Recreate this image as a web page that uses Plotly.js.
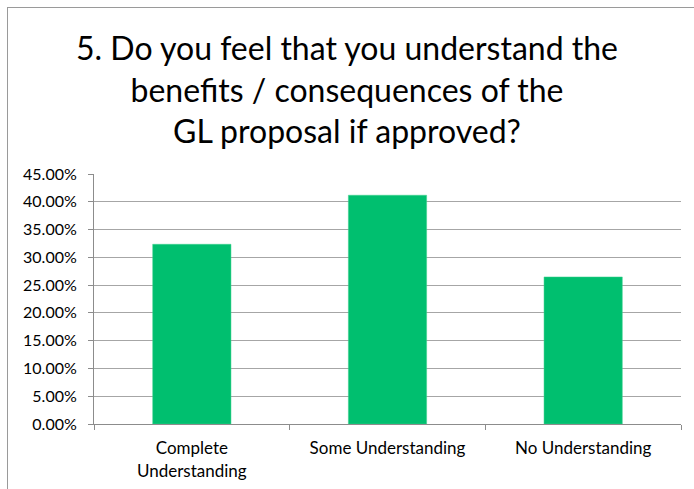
<!DOCTYPE html>
<html>
<head>
<meta charset="utf-8">
<script src="https://cdn.plot.ly/plotly-3.0.1.min.js"></script>
<style>
  html, body { margin: 0; padding: 0; background: #fff; }
  #wrap { position: relative; width: 694px; height: 489px; overflow: hidden; }
  #chart { position: absolute; left: 0; top: 0; width: 694px; height: 489px; }
  #frame { position: absolute; left: 7px; top: 7px; width: 720px; height: 520px;
           border-top: 1px solid #9a9a9a; border-left: 1px solid #9a9a9a; pointer-events: none; }
</style>
</head>
<body>
<div id="wrap">
  <div id="chart"></div>
  <div id="frame"></div>
</div>
<script>
const categories = ["Complete<br>Understanding", "Some Understanding", "No Understanding"];
const shares = [0.3235, 0.4118, 0.2647];
const yTickValues = [0, 0.05, 0.10, 0.15, 0.20, 0.25, 0.30, 0.35, 0.40, 0.45];
const yTickLabels = ["0.00%", "5.00%", "10.00%", "15.00%", "20.00%", "25.00%", "30.00%", "35.00%", "40.00%", "45.00%"];
const titleText = "5. Do you feel that you understand the<br>benefits / consequences of the<br>GL proposal if approved?";

const FONT = "Lato, 'Open Sans', sans-serif";

const trace = {
  type: "bar",
  x: categories,
  y: shares,
  width: 0.4,
  marker: { color: "#00BF6F", line: { color: "#3fd08f", width: 0.5 } },
  hoverinfo: "skip"
};

const layout = {
  width: 694,
  height: 489,
  paper_bgcolor: "rgba(0,0,0,0)",
  plot_bgcolor: "rgba(0,0,0,0)",
  margin: { l: 94, r: 13, t: 174, b: 65 },
  showlegend: false,
  bargap: 0.6,
  title: {
    text: titleText,
    font: { family: FONT, size: 32, color: "#000" },
    x: 0.5, xanchor: "center",
    y: 0.877, yanchor: "middle", yref: "container"
  },
  xaxis: {
    type: "category",
    tickson: "boundaries",
    ticks: "outside",
    ticklen: 5,
    tickcolor: "#8c8c8c",
    showline: true,
    linecolor: "#8c8c8c",
    linewidth: 1,
    showgrid: false,
    ticklabelstandoff: 9,
    tickfont: { family: FONT, size: 17, color: "#000" },
    fixedrange: true
  },
  yaxis: {
    range: [0, 0.45],
    tickvals: yTickValues,
    ticktext: yTickLabels,
    ticks: "outside",
    ticklen: 5,
    tickcolor: "#8c8c8c",
    showline: true,
    linecolor: "#8c8c8c",
    linewidth: 1,
    showgrid: true,
    gridcolor: "#a6a6a6",
    gridwidth: 1,
    zeroline: false,
    ticklabelstandoff: 8,
    tickfont: { family: FONT, size: 16, color: "#000" },
    fixedrange: true
  }
};

Plotly.newPlot("chart", [trace], layout, { displayModeBar: false, staticPlot: true });
</script>
</body>
</html>
